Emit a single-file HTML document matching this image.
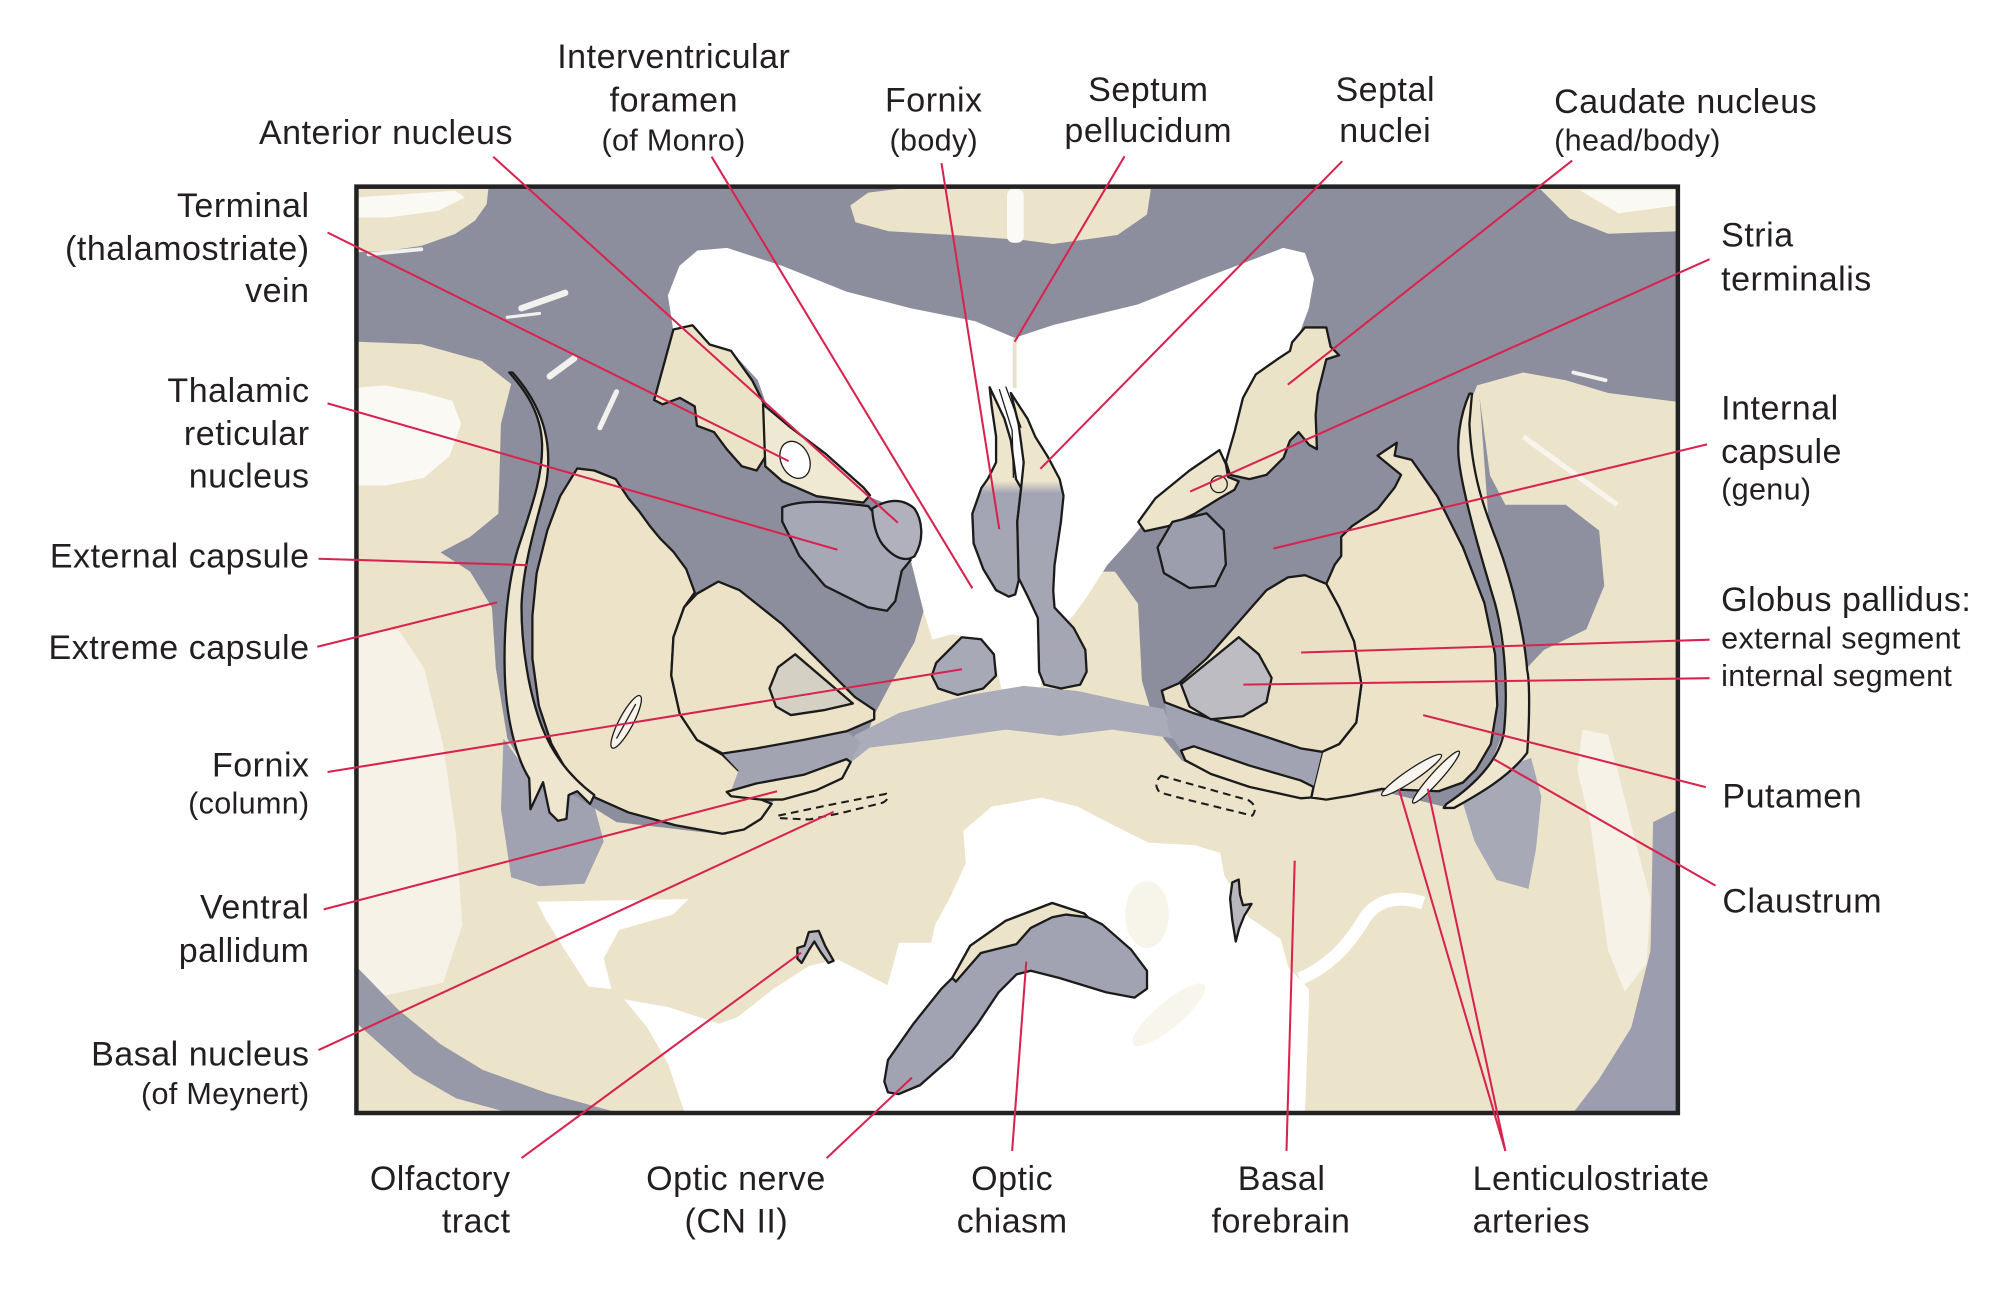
<!DOCTYPE html>
<html><head><meta charset="utf-8"><style>
html,body{margin:0;padding:0;background:#fff;}
svg{display:block;}
text{font-family:"Liberation Sans",Arial,sans-serif;fill:#231f20;}
.m{font-size:26.5px;letter-spacing:0.4px;}
.s{font-size:23.8px;letter-spacing:0.25px;}
.o{stroke:#1b1b1b;stroke-width:1.8;stroke-linejoin:round;}
.t{stroke:#1b1b1b;stroke-width:1;}
.d{fill:none;stroke:#1b1b1b;stroke-width:1.6;stroke-dasharray:6 4;}
.r{stroke:#d8234f;stroke-width:1.6;fill:none;}
</style></head><body>
<svg width="2014" height="1290" viewBox="0 0 1568 1004.3" preserveAspectRatio="none" xmlns="http://www.w3.org/2000/svg">
<defs>
<linearGradient id="sep" gradientUnits="userSpaceOnUse" x1="0" y1="300" x2="0" y2="540">
<stop offset="0" stop-color="#ede5cc"/><stop offset="0.31" stop-color="#ede5cc"/><stop offset="0.35" stop-color="#a4a5b4"/><stop offset="1" stop-color="#a6a7b5"/>
</linearGradient>
</defs>
<rect x="0" y="0" width="1568" height="1004.3" fill="#fff"/>
<!-- frame interior base -->
<rect x="277.5" y="145.3" width="1028.8" height="721.2" fill="#ece4ca"/>

<!-- left whitish sulcal areas -->
<polygon fill="#f6f2e8" points="277,495 310,490 330,520 345,580 355,650 360,720 345,765 300,775 277,770"/>
<polygon fill="#fbf9f4" points="277,302 300,300 330,306 352,312 359,330 350,355 330,372 300,378 277,378"/>
<!-- basal white -->
<polygon fill="#fff" points="418,702 536,700 524,712 482,724 470,746 476,770 458,768 440,740 425,716"/>
<polygon fill="#fff" points="533,866 520,828 504,800 486,778 520,784 560,797 574,792 602,770 630,752 652,747 666,754 691,767 700,734 725,734 728,720 739,700 752,672 750,647 772,628 811,621 839,628 866,642 894,656 930,658 950,664 953,681 972,714 997,731 1003,753 1019,770 1019,783 1016,866"/>
<ellipse cx="893" cy="712" rx="17" ry="26" fill="#f7f4ea"/>
<ellipse cx="910" cy="790" rx="36" ry="10" transform="rotate(-40 910 790)" fill="#f8f5ec"/>
<path d="M1012,762 C1035,752 1050,736 1063,714 C1073,700 1090,697 1108,703" stroke="#fff" stroke-width="10" fill="none"/>
<path fill="#f6f2e7" d="M1232,568 L1252,572 L1262,610 L1272,650 L1285,700 L1282,750 L1265,772 L1252,740 L1245,690 L1238,640 L1228,600 Z"/>

<!-- gray bands -->
<polygon fill="#9c9dae" points="1287,640 1307,630 1307,866 1225,866 1245,840 1270,800 1285,740"/>
<polygon fill="#9798a8" points="277,752 310,786 343,813 376,833 426,851 480,866 395,866 355,855 322,836 296,813 277,796"/>
<polygon fill="#a0a1b1" points="392,575 410,600 440,615 462,625 470,655 455,688 420,690 398,683 390,630"/>
<polygon fill="#a8a9b7" points="1138,622 1165,600 1192,590 1200,620 1196,660 1190,692 1165,685 1148,655"/>

<!-- main white matter -->
<polygon fill="#8d8e9d" points="277,145 1307,145 1307,313 1252,306 1219,296 1186,290 1150,300 1138,330 1136,360 1146,406 1164,470 1172,522 1171,569 1159,598 1139,616 1124,628 1076,616 1052,620 1022,622 973,613 943,603 920,592 906,575 895,550 889,530 886,470 868,445 846,445 820,470 760,470 719,476 712,500 692,535 681,556 670,585 640,605 600,625 565,650 480,640 440,615 410,600 395,575 386,520 383,473 366,445 343,430 366,418 388,400 390,330 398,299 375,281 328,268 277,266"/>
<polygon fill="#8f909f" points="1152,310 1160,370 1172,393 1219,393 1245,413 1249,456 1235,490 1202,506 1186,523 1175,480 1160,420"/>
<!-- cortex overlays -->
<polygon fill="#ece4ca" points="276.4,147 380.2,147 378.9,158.9 369.8,171.8 354.3,182.2 328.3,191.3 302.4,195.2 276.4,196.5"/>
<polygon fill="#fbf9f3" points="276.4,153.7 354.3,148.5 362,153.7 341.3,164.1 302.4,169.3 276.4,169.3"/>
<polygon fill="#ece4ca" points="662,160 676,150 700,147 896,147 893,167 870,183 820,190 798,187 742,183 692,180 666,173"/>
<rect x="784" y="147" width="13" height="42" rx="5" fill="#fbfaf6"/>
<polygon fill="#ece4ca" points="1199,147 1307,147 1307,180 1252,182 1222,170"/>
<polygon fill="#fbf9f3" points="1230,148 1305,148 1305,160 1260,166"/>
<path d="M1186,340 L1259,393" stroke="#f8f5ee" stroke-width="4" fill="none"/>
<!-- vessels -->
<g stroke="#f3f1ee" stroke-linecap="round" fill="none">
<path d="M406,240 L440,228" stroke-width="5"/><path d="M428,293 L447,279" stroke-width="5"/>
<path d="M467,333 L480,305" stroke-width="4"/><path d="M287,198 L328,194" stroke-width="3"/>
<path d="M395,247 L420,244" stroke-width="2.5"/><path d="M1225,290 L1250,296" stroke-width="3"/>
</g>

<!-- ventricles -->
<polygon fill="#fff" points="529,207 543,195 566,193 609,207 659,227 709,240 759,250 790,263 820,253 886,237 936,217 973,203 999,193 1016,197 1023,217 1019,240 1013,256 1000,290 975,320 958,360 930,382 895,402 880,420 862,440 846,465 835,480 812,500 810,540 782,546 776,520 765,497 740,494 726,498 719,476 709,436 712,396 690,392 672,385 640,355 615,333 597,316 590,296 569,273 552,268 539,253 524,256 520,230"/>
<path d="M790,263 L790,302" stroke="#e9e1c8" stroke-width="3"/>
<!-- anterior commissure band -->
<polygon fill="#abacba" points="655,590 666,572 700,555 755,541 797,534 839,538 880,547 906,552 915,575 908,574 866,568 825,573 783,568 727,576 677,582 662,594"/>

<!-- LEFT structures -->
<path class="o" fill="#ece3c8" d="M449.4,364.7 L462.7,366.3 L479.3,373 L489.3,388 L497.6,398 L506,409.6 L514.3,419.6 L524.3,429.6 L534.2,442.9 L540.9,461.2 L532.6,472.8 L524.3,496.1 L522.6,526 L529.3,556 L542.6,576 L562.5,587.6 L575,600 L589,610 L592.5,622.5 L600.8,625.8 L592.5,637.5 L579.2,645.8 L562.5,649.1 L525.9,642.5 L489.3,632.5 L459.4,619.2 L442.7,602.6 L429.4,579.3 L419.5,549.3 L414.5,512.7 L414.5,479.5 L417.8,446.2 L426.1,413 L436.1,386.3 Z"/>
<path fill="#a3a4b2" d="M562.5,586.6 L589.1,582.6 L625.7,576 L659,569.3 L670,578 L662,593 L625.7,603.2 L589,610 L569,616 L575,600 Z"/>
<path class="o" fill="#ebe2c7" d="M559.2,452.8 L575.8,459.5 L609.1,486.1 L642.4,519.4 L665.6,542.7 L680.6,552.7 L680.6,560 L659,569.3 L625.7,576 L589.1,582.6 L562.5,586.6 L542.6,576 L529.3,556 L522.6,526 L524.3,496.1 L532.6,472.8 L542.6,462.2 Z"/>
<path class="o" fill="#d5d0c4" d="M619.1,509.4 L664,547.7 L642.4,552.7 L615.8,556.7 L604.1,550 L599.1,536 L605.8,519.4 Z"/>
<path class="o" fill="#ece3c8" d="M565.8,616.5 L589.1,609.9 L625.7,603.2 L659,591 L662.3,593.3 L655.7,605.9 L635.7,615.2 L609.1,622.5 L592.5,622.5 L569.2,619.9 Z"/>
<path class="o" fill="#eee6cf" d="M396.5,290 C410,305 421,322 422,345 C423,372 412,400 403,428 C395,455 392,490 393,525 C394,560 402,590 412,606 L413,630 L422.8,609 L427.8,632.5 L434.4,639 L441,637.5 L442.7,619 L449.4,616 L459.4,626 L462.7,619 C448,608 432,592 422,566 C412,540 406,505 406,472 C407,440 418,405 425,378 C430,350 426,320 399,290 Z"/>
<ellipse cx="487.5" cy="562" rx="5.5" ry="23" transform="rotate(28 487.5 562)" fill="#f7f3ea" class="t"/>
<path class="t" fill="none" d="M480,575 L495,548"/>
<path class="o" fill="#a7a8b6" d="M609,395 C625,388 650,391 676,394 L709,436 L702,444.5 L697,468 L690.6,475.5 L675.6,472.8 L642.4,456.2 L622.4,432.9 L609,406 Z"/>
<path class="o" fill="#b0b1bd" d="M679,396 C690,389 702,387 712,396 C718,405 720,420 712,433 C706,437 698,436 689,426 C683,420 680,410 679,396 Z"/>
<path class="o" fill="#ebe3c8" d="M509.3,311.4 L524.3,256.5 L539.2,253.2 L552.5,268.2 L569.2,273.2 L585.8,296.5 L595.8,316.4 L597.5,353 L589.1,366.3 L577.5,363 L565.8,349.7 L555.9,336.4 L542.6,331.4 L540.9,316.4 L529.3,309.8 L515.9,314.8 Z"/>
<path class="o" fill="#efe8d3" d="M594.1,314.8 L595.8,363 L609.1,374.7 L635.7,386.3 L672.3,391.3 L677.3,385.6 L672.3,379.6 L642.4,353 L615.8,333 Z"/>
<ellipse cx="619" cy="358" rx="11" ry="15" transform="rotate(-25 619 358)" fill="#fff" class="t"/>

<!-- septal / fornix -->
<path class="o" fill="url(#sep)" d="M770.5,301.5 L772,316 L775.5,340 L775.5,360 L769,373 L764,380 L757,400 L758,423 L765.5,443 L775.5,459.5 L785.4,464.5 L790.4,462.8 L793.7,449.5 L792,406 L795,380 L791,373 L787,343 L782,326 Z"/>
<path class="o" fill="url(#sep)" d="M787,306 L800,326 L806,340 L816,356 L825,373 L828,386 L826,406 L821,440 L820,460 L821,473 L836,489 L845,506 L846,523 L841,533 L826,536 L813,533 L809,523 L808,481 L800,464 L793,450 L792,406 L795,380 L797,360 L793,330 Z"/>
<path class="t" fill="none" d="M778,303 L788,335 L789,372 M783,301 L795,333"/>
<path class="o" fill="#a8a9b7" d="M728.9,516 L748.8,496.1 L763.8,497.7 L773.8,509.4 L775.4,526 L765.5,536 L745.5,541 L730.5,536 L725.5,526 Z"/>

<!-- RIGHT structures -->
<path class="o" fill="#ece3c8" d="M1072.5,354.7 L1087.5,344.7 L1085.8,354.7 L1099,358 L1119,386.3 L1139,426.2 L1155.7,469.5 L1164,509.4 L1165.7,549.3 L1160.7,579.3 L1149,599.2 L1139,609.2 L1120,616 L1075.8,614.2 L1052.6,619.2 L1032.6,622.5 L1020.9,620.9 L1022.6,612.6 L1029.3,585.3 L1042.6,579.3 L1055.9,562.6 L1059.9,532.7 L1054.2,499.4 L1042.6,472.8 L1032.6,454.5 L1039.2,439.5 L1044.2,432.9 L1044.2,417.9 L1052.6,409.6 L1072.5,396.3 L1085.8,379.6 L1090.8,369.7 Z"/>
<path fill="#a2a3b2" d="M906.8,546.7 L929.5,555.3 L972.7,569.3 L1012.6,582.6 L1029.3,585.3 L1022.6,612.6 L1012.6,607.6 L972.7,596 L929.5,581 L919.5,584.3 L910,570 Z"/>
<path class="o" fill="#e9e0c6" d="M1016,447.8 L1032.6,454.5 L1042.6,472.8 L1054.2,499.4 L1059.9,532.7 L1055.9,562.6 L1042.6,579.3 L1029.3,585.3 L1012.6,582.6 L972.7,569.3 L929.5,555.3 L906.8,546.7 L904.5,537.7 L917.8,532 L939.4,512.7 L962.7,486.1 L986,459.5 L1002.7,449.5 Z"/>
<path class="o" fill="#bdbcc2" d="M964.4,496.1 L980,509.4 L990,527.7 L986,546.7 L967.7,557.6 L942.8,560 L926.1,550 L919.5,532.7 Z"/>
<path class="o" fill="#ece3c8" d="M919.5,584.3 L929.5,581 L972.7,596 L1012.6,607.6 L1022.6,612.6 L1020.9,620.9 L1012.6,621.5 L972.7,612.6 L942.8,602.6 L922.8,591.9 Z"/>
<path class="o" fill="#eee6cf" d="M1144,306.5 C1136,325 1134,345 1136,360 C1140,390 1155,440 1164,470 C1172,500 1174,540 1171,569 C1168,590 1150,610 1126,626 L1124,629 L1132,629 C1150,619 1175,605 1189,586 C1191,560 1191,530 1189,522 C1187,495 1178,455 1166,423 C1155,395 1146,370 1144,330 L1146,306.5 Z"/>
<ellipse cx="1099" cy="603.4" rx="28" ry="4.5" transform="rotate(-34 1099 603.4)" fill="#f8f5ee" class="t"/>
<ellipse cx="1118" cy="605" rx="27" ry="4" transform="rotate(-48 1118 605)" fill="#f8f5ee" class="t"/>
<path class="o" fill="#ebe3c8" d="M1006,266.5 L1016,254.9 L1032.6,254.9 L1035.9,269.9 L1042.6,276.5 L1032.6,279.8 L1025.9,306.5 L1024.3,323.1 L1025.3,349.7 L1019.3,346.4 L1011,336.4 L1004.3,343.1 L999.3,356.4 L986,369.7 L972.7,373 L957.7,369.7 L954.4,359.7 L961.1,336.4 L967.7,309.8 L977.7,291.5 L994.3,279.8 L1004.3,273.2 Z"/>
<path class="o" fill="#ece4cb" d="M886.2,406.3 L899.5,388 L926.1,366.3 L949.4,350.4 L954.4,361.3 L956.1,371.3 L964.4,374.7 L961.1,381.3 L949.4,388 L929.5,400.3 L909.5,409.6 L891.2,413.6 Z"/>
<circle cx="949" cy="377" r="6.5" fill="none" class="t"/>
<path class="o" fill="#9c9dad" d="M912.8,406.3 L939.4,399.6 L952.7,412.9 L954.4,439.5 L946.1,456.2 L926.1,457.8 L906.2,446.2 L901.2,426.2 Z"/>

<!-- ventral small structures -->
<path class="o" fill="#b6b4bd" d="M620.8,738 L626.4,736.3 L629.7,725.7 L637.4,724.7 L642.4,736.3 L649,748 L645,749.7 L639,741.3 L634,733 L629.7,739.7 L624.1,749.7 L620.8,746.3 Z"/>
<path class="o" fill="#b9b7bd" d="M959.4,687 L964.4,684.8 L965.4,696.4 L967.7,704.7 L974.4,703.7 L968.7,713 L964.7,723 L962.1,733 L959.4,716.4 L957.7,699.7 Z"/>
<path class="o" fill="#a2a3b2" d="M688.5,842 L691.3,825.3 L710.8,797.5 L733,769.7 L741.4,761.4 L755.3,736.3 L783,716.9 L819.2,703 L844.3,711.3 L847,714.1 L858.2,719.7 L880.4,739.1 L893,755.8 L893,769.7 L883.2,776.7 L861,772.5 L824.8,761.4 L802.5,755.8 L791.4,758.6 L777.5,772.5 L760.8,797.5 L741.4,822.6 L716.3,844.8 L699.7,851.8 L691.3,850.4 Z"/>
<path class="o" fill="#ece4ca" d="M741.4,761.4 L755.3,736.3 L783,716.9 L819.2,703 L844.3,711.3 L847,714.1 L830,712 L819.2,714.1 L802.5,722.4 L791.4,735 L763.6,741.9 L744.2,764.2 Z"/>
<path class="d" d="M606,635 L644,627 L690,618 Q693,622 687,625 L655,633 L630,638 L608,637 Z"/>
<path class="d" d="M904,604 L972,623 Q980,628 975,635 L922,622 L903,617 Q897,610 904,604 Z"/>

<!-- frame -->
<rect x="277.5" y="145.3" width="1028.8" height="721.2" fill="none" stroke="#222" stroke-width="3.5"/>

<!-- leader lines -->
<g class="r">
<line x1="384" y1="122" x2="699" y2="407"/>
<line x1="554" y1="122" x2="757" y2="458"/>
<line x1="733" y1="127" x2="778" y2="412"/>
<line x1="875.5" y1="121.7" x2="790" y2="266"/>
<line x1="1045" y1="125.5" x2="810" y2="365"/>
<line x1="1224" y1="125" x2="1002.6" y2="299.5"/>
<line x1="1331" y1="201.8" x2="926.6" y2="382.7"/>
<line x1="1329" y1="346" x2="991.5" y2="427"/>
<line x1="1331" y1="498" x2="1013" y2="508"/>
<line x1="1331" y1="528" x2="968" y2="533"/>
<line x1="1328" y1="612.8" x2="1108" y2="556.7"/>
<line x1="1335.6" y1="689.5" x2="1163" y2="591"/>
<line x1="1172" y1="896" x2="1089" y2="614"/>
<line x1="1172" y1="896" x2="1111.6" y2="614"/>
<line x1="1001.6" y1="896" x2="1008" y2="670"/>
<line x1="788" y1="896" x2="799" y2="748.7"/>
<line x1="643.6" y1="901.6" x2="710" y2="839"/>
<line x1="406" y1="901.6" x2="623.6" y2="741.7"/>
<line x1="248" y1="817.5" x2="649" y2="632"/>
<line x1="252" y1="708" x2="605" y2="616"/>
<line x1="255" y1="601" x2="749" y2="521"/>
<line x1="247" y1="503.5" x2="387" y2="469"/>
<line x1="248" y1="435" x2="411" y2="440"/>
<line x1="255" y1="314" x2="652" y2="428"/>
<line x1="255" y1="181" x2="614" y2="359"/>
</g>

<!-- labels top -->
<text class="m" x="300.5" y="112" text-anchor="middle">Anterior nucleus</text>
<text class="m" x="524.6" y="53" text-anchor="middle">Interventricular</text>
<text class="m" x="524.6" y="87" text-anchor="middle">foramen</text>
<text class="s" x="524.4" y="117" text-anchor="middle">(of Monro)</text>
<text class="m" x="727" y="87" text-anchor="middle">Fornix</text>
<text class="s" x="727" y="117" text-anchor="middle">(body)</text>
<text class="m" x="894" y="78.5" text-anchor="middle">Septum</text>
<text class="m" x="894" y="110.5" text-anchor="middle">pellucidum</text>
<text class="m" x="1078.5" y="78.5" text-anchor="middle">Septal</text>
<text class="m" x="1078.5" y="110.5" text-anchor="middle">nuclei</text>
<text class="m" x="1210" y="88">Caudate nucleus</text>
<text class="s" x="1210" y="117">(head/body)</text>
<!-- labels left -->
<text class="m" x="241" y="169" text-anchor="end">Terminal</text>
<text class="m" x="241" y="202.5" text-anchor="end">(thalamostriate)</text>
<text class="m" x="241" y="235" text-anchor="end">vein</text>
<text class="m" x="241" y="313" text-anchor="end">Thalamic</text>
<text class="m" x="241" y="346.5" text-anchor="end">reticular</text>
<text class="m" x="241" y="379.5" text-anchor="end">nucleus</text>
<text class="m" x="241" y="442" text-anchor="end">External capsule</text>
<text class="m" x="241" y="513" text-anchor="end">Extreme capsule</text>
<text class="m" x="241" y="604.5" text-anchor="end">Fornix</text>
<text class="s" x="241" y="633.5" text-anchor="end">(column)</text>
<text class="m" x="241" y="715" text-anchor="end">Ventral</text>
<text class="m" x="241" y="748.8" text-anchor="end">pallidum</text>
<text class="m" x="241" y="829.5" text-anchor="end">Basal nucleus</text>
<text class="s" x="241" y="859.3" text-anchor="end">(of Meynert)</text>
<!-- labels right -->
<text class="m" x="1340" y="192">Stria</text>
<text class="m" x="1340" y="226">terminalis</text>
<text class="m" x="1340" y="326.7">Internal</text>
<text class="m" x="1340" y="360.3">capsule</text>
<text class="s" x="1340" y="389">(genu)</text>
<text class="m" x="1340" y="475.6">Globus pallidus:</text>
<text class="s" x="1340" y="505">external segment</text>
<text class="s" x="1340" y="534">internal segment</text>
<text class="m" x="1341" y="628.7">Putamen</text>
<text class="m" x="1341" y="710.4">Claustrum</text>
<!-- labels bottom -->
<text class="m" x="397.5" y="926.5" text-anchor="end">Olfactory</text>
<text class="m" x="397.5" y="959.5" text-anchor="end">tract</text>
<text class="m" x="573" y="926.5" text-anchor="middle">Optic nerve</text>
<text class="m" x="573.3" y="959.5" text-anchor="middle">(CN II)</text>
<text class="m" x="788" y="926.5" text-anchor="middle">Optic</text>
<text class="m" x="788" y="959.5" text-anchor="middle">chiasm</text>
<text class="m" x="997.8" y="926.5" text-anchor="middle">Basal</text>
<text class="m" x="997.3" y="959.5" text-anchor="middle">forebrain</text>
<text class="m" x="1146.5" y="926.5">Lenticulostriate</text>
<text class="m" x="1146.5" y="959.5">arteries</text>
</svg>
</body></html>
